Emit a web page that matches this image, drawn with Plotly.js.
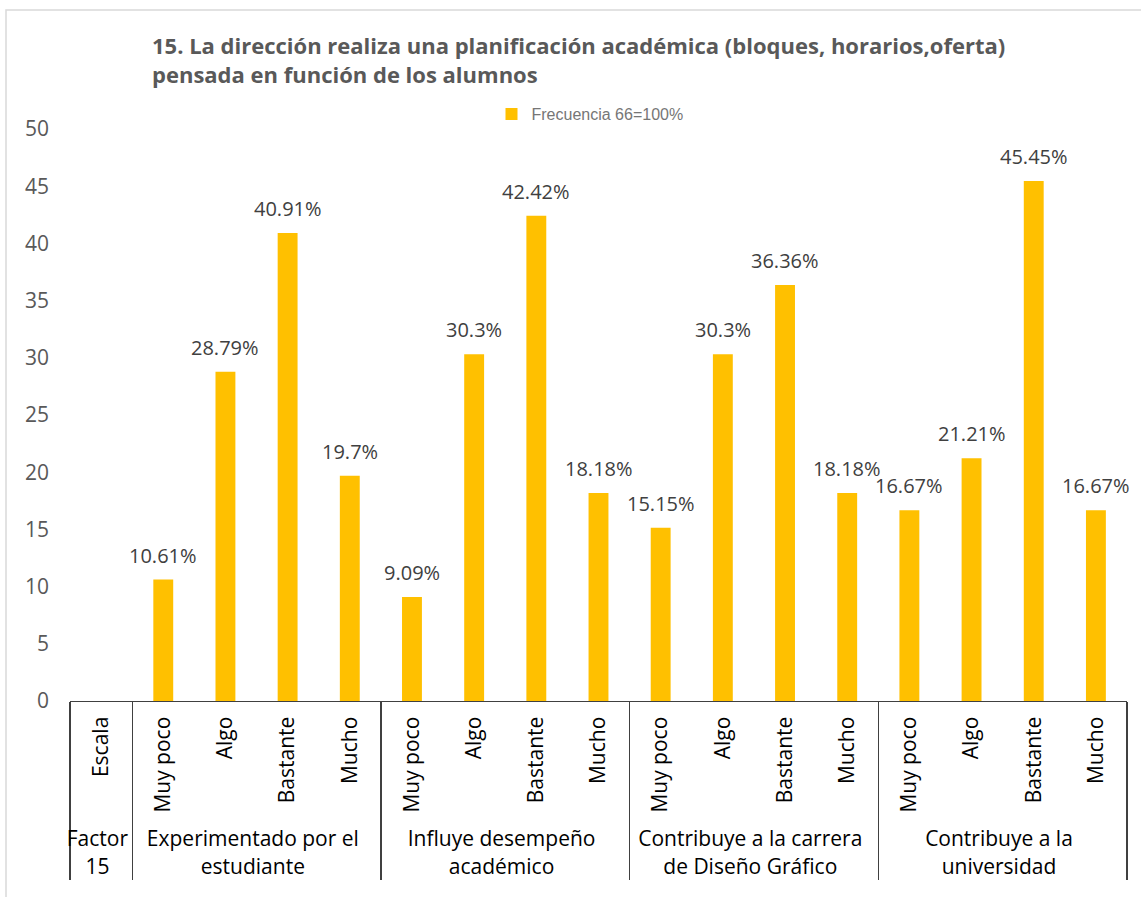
<!DOCTYPE html>
<html>
<head>
<meta charset="utf-8">
<script src="https://cdn.plot.ly/plotly-3.0.1.min.js"></script>
<style>html,body{margin:0;padding:0;background:#fff;}</style>
</head>
<body>
<div id="chart" style="width:1141px;height:897px;"></div>
<script>
// ---- data ----
const groupLabels = ["Factor<br>15", "Experimentado por el<br>estudiante", "Influye desempeño<br>académico", "Contribuye a la carrera<br>de Diseño Gráfico", "Contribuye a la<br>universidad"];
const firstCategory = "Escala";
const scaleLabels = ["Muy poco", "Algo", "Bastante", "Mucho"];
const experimentado = [10.61, 28.79, 40.91, 19.7];
const influye = [9.09, 30.3, 42.42, 18.18];
const carrera = [15.15, 30.3, 36.36, 18.18];
const universidad = [16.67, 21.21, 45.45, 16.67];
const seriesName = "Frecuencia 66=100%";
const chartTitle = "15. La dirección realiza una planificación académica (bloques, horarios,oferta)<br>pensada en función de los alumnos";
const yTicks = [0, 5, 10, 15, 20, 25, 30, 35, 40, 45, 50];

// ---- build multicategory arrays ----
const groupSeries = [experimentado, influye, carrera, universidad];
const xGroup = [groupLabels[0]];
const xCat = [firstCategory];
const yVals = [null];
groupSeries.forEach((vals, g) => {
  scaleLabels.forEach((s, i) => {
    xGroup.push(groupLabels[g + 1]);
    xCat.push(s);
    yVals.push(vals[i]);
  });
});

const labelAnnotations = [];
yVals.forEach((v, i) => {
  if (v === null) return;
  labelAnnotations.push({
    x: i, y: v, xref: 'x', yref: 'y',
    text: v + '%', showarrow: false,
    yanchor: 'bottom', yshift: 9,
    font: {family: 'Open Sans, sans-serif', size: 20, color: '#404040'}
  });
});

const trace = {
  type: 'bar',
  x: [xGroup, xCat],
  y: yVals,
  name: seriesName,
  showlegend: true,
  marker: {color: '#FFC000'},
  hoverinfo: 'x+y'
};

const pxW = 1057, pxH = 572;
const layout = {
  width: 1141, height: 897,
  margin: {l: 70, r: 14, t: 129, b: 196},
  paper_bgcolor: '#ffffff',
  plot_bgcolor: '#ffffff',
  bargap: 0.68,
  font: {family: 'Open Sans, sans-serif', color: '#000000'},
  title: {
    text: chartTitle,
    font: {family: 'Open Sans, sans-serif', size: 22, color: '#595959', weight: 'bold'},
    xref: 'container', yref: 'container',
    x: 152 / 1141, xanchor: 'left',
    y: 1 - 54 / 897, yanchor: 'top'
  },
  showlegend: true,
  legend: {
    orientation: 'h',
    x: (590 - 70) / pxW, xanchor: 'center',
    y: (701 - 114) / pxH, yanchor: 'middle',
    font: {family: 'Liberation Sans, Arial, sans-serif', size: 16, color: '#767676'},
    bgcolor: 'rgba(0,0,0,0)'
  },
  xaxis: {
    type: 'multicategory',
    range: [-0.5, 16.5],
    tickangle: -90,
    tickfont: {family: 'Open Sans, sans-serif', size: 21, color: '#000000'},
    showline: true, linecolor: '#404040', linewidth: 1.3,
    showgrid: false, zeroline: false,
    ticks: '',
    ticklabelstandoff: 6,
    showdividers: true, dividercolor: '#404040', dividerwidth: 1.3,
    fixedrange: true
  },
  yaxis: {
    range: [0, 50],
    tickvals: yTicks,
    ticktext: yTicks.map(String),
    tickfont: {family: 'Open Sans, sans-serif', size: 21, color: '#595959'},
    showgrid: false, zeroline: false, showline: false,
    ticks: '',
    ticklabelstandoff: 20,
    fixedrange: true
  },
  annotations: labelAnnotations,
  shapes: [{
    type: 'rect', xref: 'paper', yref: 'paper',
    x0: (6 - 70) / pxW, x1: 1.05,
    y0: -0.5, y1: (701 - 10) / pxH,
    line: {color: '#d9d9d9', width: 1.5},
    fillcolor: 'rgba(0,0,0,0)', layer: 'below'
  }]
};

Plotly.newPlot('chart', [trace], layout, {displayModeBar: false, staticPlot: true});
</script>
</body>
</html>
